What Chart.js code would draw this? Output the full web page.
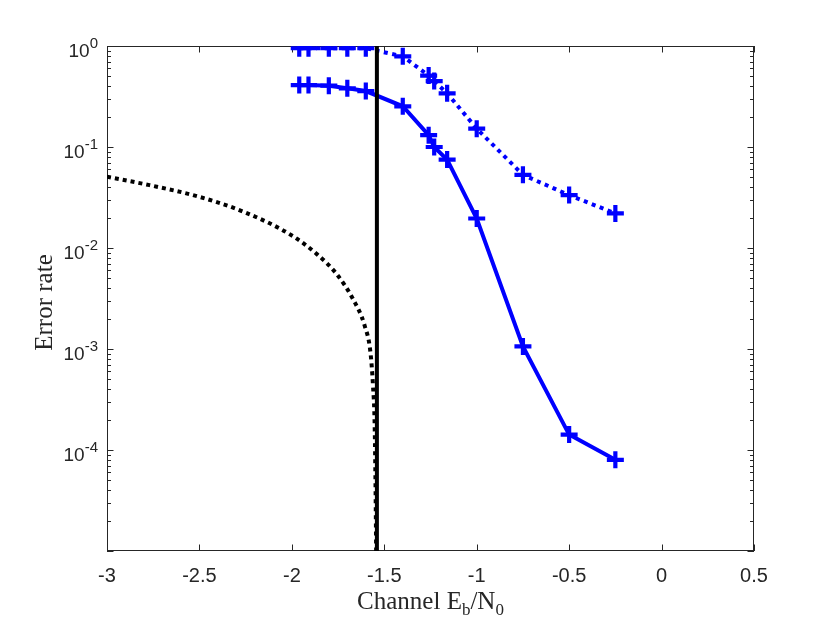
<!DOCTYPE html>
<html>
<head>
<meta charset="utf-8">
<script src="https://cdn.jsdelivr.net/npm/chart.js@4"></script>
<style>
  html, body { margin: 0; padding: 0; background: #ffffff; }
  #wrap { width: 831px; height: 629px; }
</style>
</head>
<body>
<div id="wrap"><canvas id="ber-chart" width="831" height="629"></canvas></div>
<script>
// Channel Eb/N0 values where the decoder was simulated
const ebn0 = [-1.96, -1.91, -1.8, -1.7, -1.6, -1.4, -1.26, -1.23, -1.16, -1.0, -0.75, -0.5, -0.25];
// error rates
const frameErr = [0.95, 0.95, 0.95, 0.95, 0.95, 0.79, 0.51, 0.45, 0.34, 0.152, 0.053, 0.0334, 0.022];
const bitErr = [0.41, 0.41, 0.405, 0.381, 0.358, 0.253, 0.131, 0.100, 0.075, 0.0196, 1.06e-3, 1.42e-4, 8.0e-5];

// bound curve (black dotted)
const boundX = [-3.0, -2.77, -2.5, -2.26, -2.0, -1.867, -1.759, -1.67, -1.606, -1.575, -1.561, -1.552, -1.547, -1.544];
const boundY = [0.0507, 0.0419, 0.0321, 0.0228, 0.0133, 0.00877, 0.00556, 0.00314, 0.0017, 9.3e-4, 4.3e-4, 1.73e-4, 3.77e-5, 1e-5];

// limit line
const limitX = -1.54;

const xTicks = [-3, -2.5, -2, -1.5, -1, -0.5, 0, 0.5];
const yTicks = [0, -1, -2, -3, -4]; // exponents with a label

const axisColor = "#262626";

function toPoints(xs, ys) {
  return xs.map((x, i) => ({ x: x, y: ys[i] }));
}

// box, inward ticks, y labels with superscripts and axis titles
const matlabAxes = {
  id: "matlabAxes",
  beforeDatasetsDraw(chart) {
    const { ctx, chartArea: a, scales } = chart;
    const xs = scales.x, ys = scales.y;
    ctx.save();
    ctx.strokeStyle = axisColor;
    ctx.lineWidth = 1;
    ctx.strokeRect(a.left + 0.5, a.top + 0.5, a.right - a.left - 1, a.bottom - a.top - 1);
    ctx.beginPath();
    xTicks.forEach((t) => {
      const px = Math.round(xs.getPixelForValue(t)) + 0.5;
      ctx.moveTo(px, a.bottom);
      ctx.lineTo(px, a.bottom - 6.5);
      ctx.moveTo(px, a.top);
      ctx.lineTo(px, a.top + 6.5);
    });
    for (let e = -5; e <= 0; e++) {
      for (let m = 1; m <= 9; m++) {
        const v = m * Math.pow(10, e);
        if (v > 1) break;
        const py = Math.round(ys.getPixelForValue(v)) + 0.5;
        const len = m === 1 ? 6.5 : 4;
        ctx.moveTo(a.left, py);
        ctx.lineTo(a.left + len, py);
        ctx.moveTo(a.right, py);
        ctx.lineTo(a.right - len, py);
      }
    }
    ctx.stroke();
    ctx.restore();
  },
  afterDraw(chart) {
    const { ctx, chartArea: a, scales } = chart;
    const ys = scales.y;
    ctx.save();
    ctx.fillStyle = axisColor;
    ctx.textBaseline = "alphabetic";

    // y tick labels 10^n
    yTicks.forEach((e) => {
      const py = ys.getPixelForValue(Math.pow(10, e));
      const expText = e === 0 ? "0" : "-" + Math.abs(e);
      ctx.font = "15px 'Liberation Sans'";
      const ew = ctx.measureText(expText).width;
      const right = a.left - 9;
      ctx.textAlign = "left";
      ctx.fillText(expText, right - ew, py + 2);
      ctx.font = "19px 'Liberation Sans'";
      ctx.textAlign = "right";
      ctx.fillText("10", right - ew, py + 11);
    });

    // y title
    ctx.save();
    ctx.translate(52, (a.top + a.bottom) / 2 + 4);
    ctx.rotate(-Math.PI / 2);
    ctx.font = "25px 'Liberation Serif'";
    ctx.textAlign = "center";
    ctx.fillText("Error rate", 0, 0);
    ctx.restore();

    // x title with subscripts
    const parts = [
      { t: "Channel E", size: 25, dy: 0 },
      { t: "b", size: 17, dy: 6 },
      { t: "/N", size: 25, dy: 0 },
      { t: "0", size: 17, dy: 6 },
    ];
    let total = 0;
    parts.forEach((p) => {
      ctx.font = p.size + "px 'Liberation Serif'";
      p.w = ctx.measureText(p.t).width;
      total += p.w;
    });
    let x = (a.left + a.right) / 2 - total / 2;
    const base = 609;
    ctx.textAlign = "left";
    parts.forEach((p) => {
      ctx.font = p.size + "px 'Liberation Serif'";
      ctx.fillText(p.t, x, base + p.dy);
      x += p.w;
    });
    ctx.restore();
  },
};

const ctx = document.getElementById("ber-chart");

new Chart(ctx, {
  type: "line",
  data: {
    datasets: [
      {
        label: "limit",
        data: [{ x: limitX, y: 1e-5 }, { x: limitX, y: 1 }],
        borderColor: "#000000",
        borderWidth: 4,
        pointRadius: 0,
      },
      {
        label: "bit error rate",
        data: toPoints(ebn0, bitErr),
        borderColor: "#0000ff",
        borderWidth: 4,
        pointStyle: "cross",
        pointRadius: 8.5,
        pointBorderWidth: 4.2,
        pointBorderColor: "#0000ff",
      },
      {
        label: "frame error rate",
        data: toPoints(ebn0, frameErr),
        borderColor: "#0000ff",
        borderWidth: 4,
        borderDash: [4, 4.5],
        pointStyle: "cross",
        pointRadius: 8.5,
        pointBorderWidth: 4.2,
        pointBorderColor: "#0000ff",
      },
      {
        label: "bound",
        data: toPoints(boundX, boundY),
        borderColor: "#000000",
        borderWidth: 4,
        borderDash: [4, 4],
        pointRadius: 0,
        cubicInterpolationMode: "monotone",
      },
    ],
  },
  options: {
    responsive: false,
    animation: false,
    devicePixelRatio: 1,
    layout: { padding: { top: 46, right: 77, left: 0, bottom: 0 } },
    plugins: { legend: { display: false }, tooltip: { enabled: false } },
    elements: { line: { tension: 0, borderCapStyle: "butt" } },
    scales: {
      x: {
        type: "linear",
        min: -3,
        max: 0.5,
        afterFit: (s) => { s.height = 78; },
        afterBuildTicks: (s) => { s.ticks = xTicks.map((v) => ({ value: v })); },
        ticks: {
          color: axisColor,
          font: { family: "'Liberation Sans'", size: 20 },
          padding: 13,
          maxRotation: 0,
          callback: (v) => String(v),
        },
        grid: { display: true, drawOnChartArea: false, drawTicks: false },
        border: { display: false },
      },
      y: {
        type: "logarithmic",
        min: 1e-5,
        max: 1,
        afterFit: (s) => { s.width = 107; },
        ticks: { display: false },
        grid: { display: false },
        border: { display: false },
      },
    },
  },
  plugins: [matlabAxes],
});
</script>
</body>
</html>
